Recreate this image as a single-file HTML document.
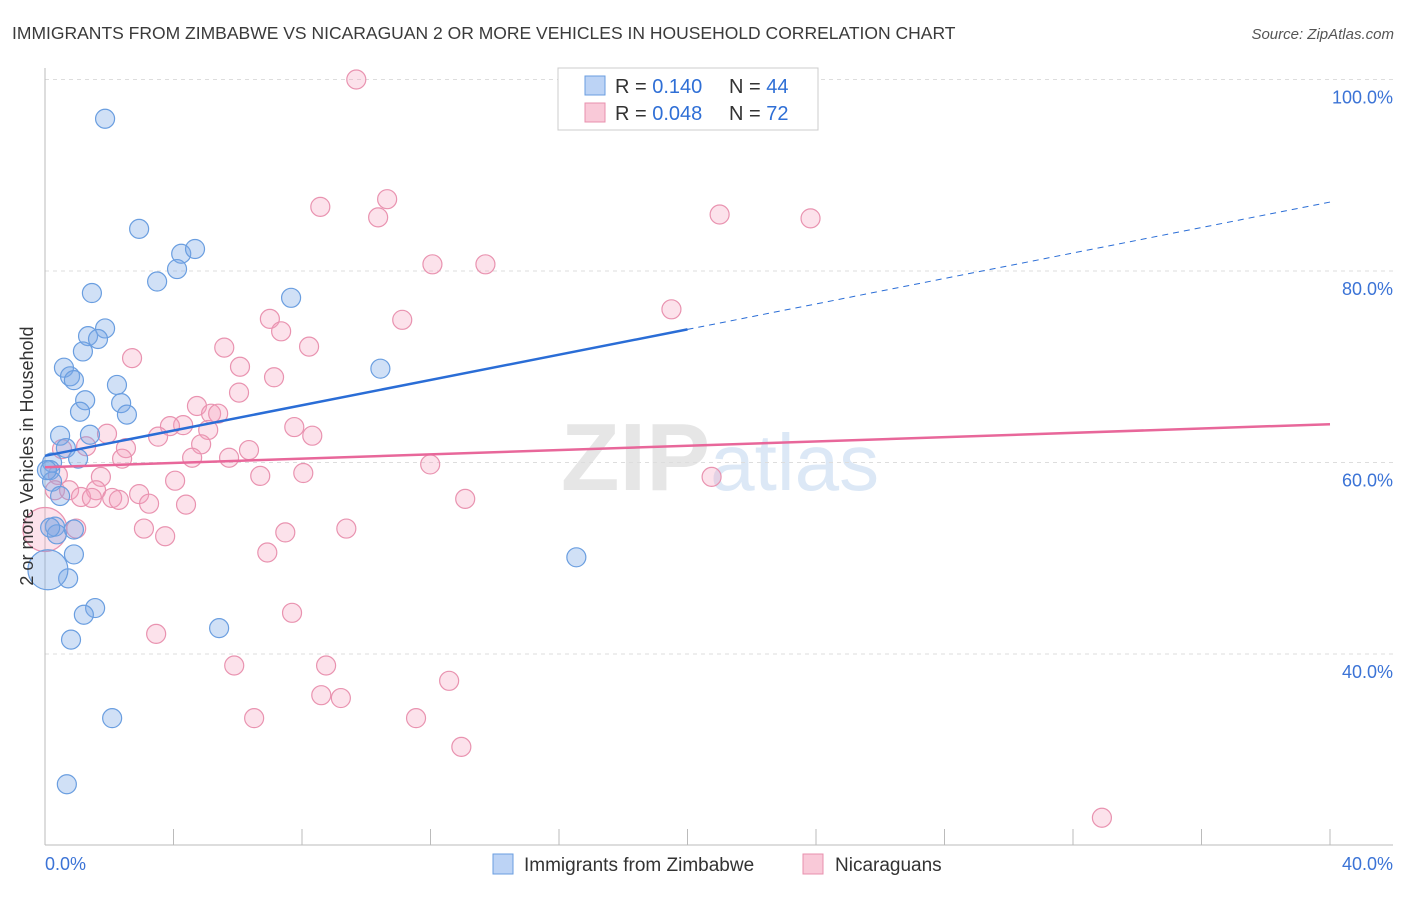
<!DOCTYPE html>
<html><head><meta charset="utf-8"><style>
body{margin:0;background:#fff;font-family:"Liberation Sans",sans-serif;}
svg text{font-family:"Liberation Sans",sans-serif;}
</style></head><body>
<svg id="chart" width="1406" height="892" xmlns="http://www.w3.org/2000/svg">
<text x="12" y="39" font-size="17.5" fill="#3a3a3a">IMMIGRANTS FROM ZIMBABWE VS NICARAGUAN 2 OR MORE VEHICLES IN HOUSEHOLD CORRELATION CHART</text>
<text x="1394" y="39" font-size="15" fill="#555" text-anchor="end" font-style="italic">Source: ZipAtlas.com</text>
<text x="720" y="490" font-size="96" fill="#e6e6e6" text-anchor="middle" font-family="Liberation Serif" font-weight="bold">ZIP<tspan fill="#dce8f6" font-family="Liberation Sans" font-weight="normal" font-size="80">atlas</tspan></text>
<g id="grid"></g><g id="axes"></g><g id="points"></g><g id="lines"></g>
<text transform="translate(33,456) rotate(-90)" font-size="18" fill="#333" text-anchor="middle">2 or more Vehicles in Household</text>
<g>
<rect x="558" y="68" width="260" height="62" fill="#fff" stroke="#ccc"/>
<rect x="585" y="76" width="20" height="19" fill="#bcd3f5" stroke="#6a9ee0"/>
<rect x="585" y="103" width="20" height="19" fill="#f9c9d8" stroke="#e890ae"/>
<text x="615" y="93" font-size="20" fill="#333">R = <tspan fill="#2f6fd6"> 0.140</tspan><tspan x="729">N = </tspan><tspan fill="#2f6fd6">44</tspan></text>
<text x="615" y="120" font-size="20" fill="#333">R = <tspan fill="#2f6fd6">0.048</tspan><tspan x="729">N = </tspan><tspan fill="#2f6fd6"> 72</tspan></text>
</g>
<g>
<rect x="493" y="854" width="20" height="20" fill="#bcd3f5" stroke="#6a9ee0"/>
<text x="524" y="871" font-size="19" fill="#333">Immigrants from Zimbabwe</text>
<rect x="803" y="854" width="20" height="20" fill="#f9c9d8" stroke="#e890ae"/>
<text x="835" y="871" font-size="19" fill="#333">Nicaraguans</text>
</g>
</svg>
<script>
const blueX=[1.87,2.93,4.24,4.67,4.11,3.49,1.46,7.66,1.87,1.34,1.65,1.18,0.59,0.78,0.90,2.24,10.44,2.37,1.25,2.55,1.09,1.40,0.47,0.65,1.03,0.22,0.16,0.22,0.47,0.31,0.37,0.90,0.90,0.72,0.09,1.56,1.21,0.81,5.42,2.09,0.68,16.54,0.06,0.16];
const blueY=[95.9,84.4,81.8,82.3,80.2,78.9,77.7,77.2,74.0,73.2,72.9,71.6,69.9,69.0,68.6,68.1,69.8,66.2,66.5,65.0,65.3,62.9,62.8,61.5,60.4,60.0,59.2,58.0,56.5,53.3,52.5,53.0,50.4,47.9,48.8,44.8,44.1,41.5,42.7,33.3,26.4,50.1,59.2,53.2];
const pinkX=[9.69,10.65,8.57,10.37,21.0,23.83,12.06,13.71,19.5,11.12,7.0,7.35,2.71,8.22,5.58,6.07,7.13,6.04,4.73,5.17,5.39,4.30,3.89,5.08,7.76,8.32,3.52,1.28,1.93,0.53,4.86,6.35,2.52,2.40,4.58,5.73,11.99,0.40,1.74,4.05,6.70,8.04,20.75,0.31,0.75,1.59,1.12,1.46,2.09,2.30,2.93,3.24,4.39,13.08,0.0,0.97,3.08,3.74,7.48,9.38,6.92,7.69,3.46,5.89,8.75,8.6,9.21,12.58,6.51,11.55,12.96,32.9];
const pinkY=[100.0,87.5,86.7,85.6,85.9,85.5,80.7,80.7,76.0,74.9,75.0,73.7,70.9,72.1,72.0,70.0,68.9,67.3,65.9,65.1,65.1,63.9,63.8,63.4,63.7,62.8,62.7,61.7,63.0,61.4,61.9,61.3,61.5,60.4,60.5,60.5,59.8,58.7,58.5,58.1,58.6,58.9,58.5,57.1,57.1,57.1,56.4,56.3,56.3,56.1,56.7,55.7,55.6,56.2,53.0,53.1,53.1,52.3,52.7,53.1,50.6,44.3,42.1,38.8,38.8,35.7,35.4,37.2,33.3,33.3,30.3,22.9];
const yTicks=[40,60,80,100];
const yTickLabels=["40.0%","60.0%","80.0%","100.0%"];
const xTicks=[0,4,8,12,16,20,24,28,32,36,40];
const blueTrend=[60.7,73.9,87.2]; // at x=0, 20, 40
const pinkTrend=[59.5,64.0];      // at x=0, 40
const NS="http://www.w3.org/2000/svg";
const X=v=>45+v*32.125, Y=v=>79.5+(100-v)*9.575;
function mk(parent,tag,attrs){const e=document.createElementNS(NS,tag);for(const k in attrs)e.setAttribute(k,attrs[k]);document.getElementById(parent).appendChild(e);return e;}
yTicks.forEach((t,i)=>{
 const l=mk('grid','line',{x1:45,x2:1393,y1:Y(t),y2:Y(t),stroke:'#ddd','stroke-dasharray':'4,4'});
 
 
 const tx=mk('grid','text',{x:1393,y:Y(t)+24,'font-size':18,fill:'#3b73d6','text-anchor':'end'});
 tx.textContent=yTickLabels[i];
 
 
});
let ax=mk('axes','line',{x1:45,x2:45,y1:68,y2:845,stroke:'#bbb'});


ax=mk('axes','line',{x1:45,x2:1393,y1:845,y2:845,stroke:'#bbb'});


xTicks.forEach(t=>{const l=mk('axes','line',{x1:X(t),x2:X(t),y1:829,y2:845,stroke:'#bbb'});
 
 });
let xl=mk('axes','text',{x:45,y:870,'font-size':18,fill:'#3b73d6'});xl.textContent='0.0%';


xl=mk('axes','text',{x:1393,y:870,'font-size':18,fill:'#3b73d6','text-anchor':'end'});xl.textContent='40.0%';


pinkX.forEach((x,i)=>{const c=mk('points','circle',{cx:X(x),cy:Y(pinkY[i]),r:i==54?22:9.5,fill:'rgba(244,160,188,0.3)',stroke:'#e993b0','stroke-width':1.2});
 
 });
blueX.forEach((x,i)=>{const c=mk('points','circle',{cx:X(x),cy:Y(blueY[i]),r:i==34?20:9.5,fill:'rgba(120,165,230,0.35)',stroke:'#6a9ee0','stroke-width':1.2});
 
 });
let ln=mk('lines','line',{x1:X(0),y1:Y(blueTrend[0]),x2:X(20),y2:Y(blueTrend[1]),stroke:'#2a6dd6','stroke-width':2.5});


ln=mk('lines','line',{x1:X(20),y1:Y(blueTrend[1]),x2:X(40),y2:Y(blueTrend[2]),stroke:'#2a6dd6','stroke-width':1,'stroke-dasharray':'6,5'});


ln=mk('lines','line',{x1:X(0),y1:Y(pinkTrend[0]),x2:X(40),y2:Y(pinkTrend[1]),stroke:'#e8679a','stroke-width':2.5});


</script>
</body></html>
